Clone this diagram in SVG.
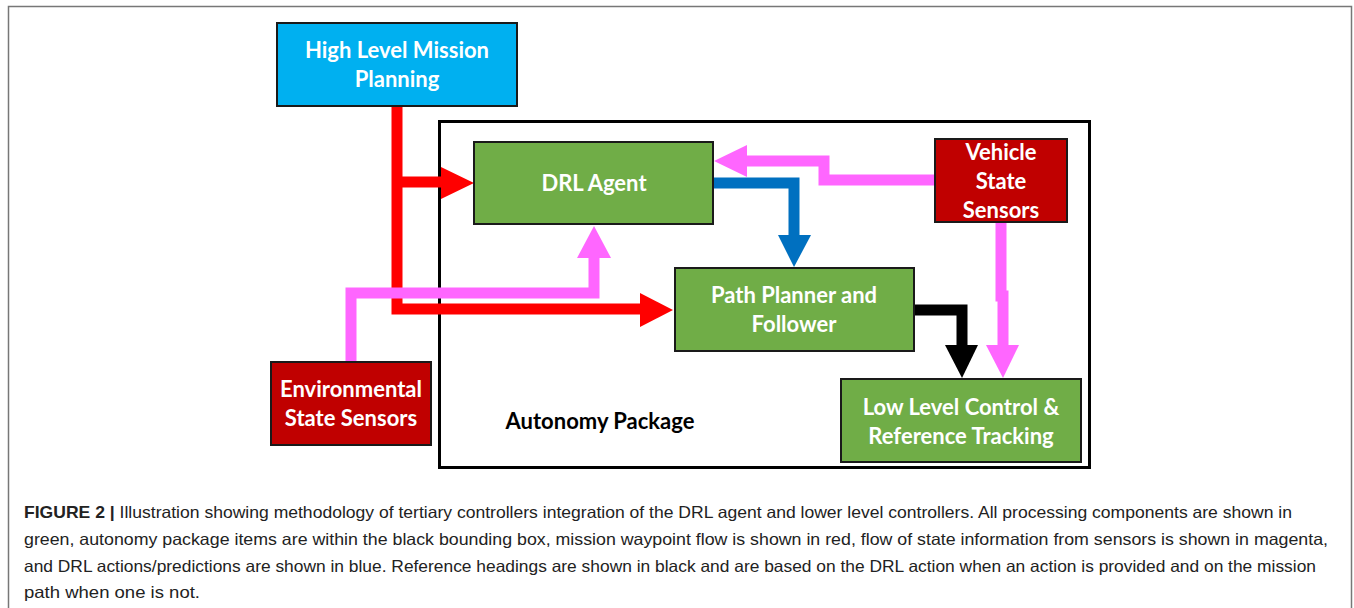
<svg xmlns="http://www.w3.org/2000/svg" width="1354" height="608" viewBox="0 0 1354 608">
<style>
.node{stroke:#1a1a1a;stroke-width:2}
.lbl{font-family:Lato,"Open Sans","Liberation Sans",sans-serif;font-weight:bold;font-size:22px;fill:#fff;text-anchor:middle}
.cap{font-family:"Liberation Sans",Arial,sans-serif;font-size:16.5px;fill:#222}
.red{fill:none;stroke:#ff0000;stroke-width:11}
.mag{fill:none;stroke:#ff66ff;stroke-width:11}
.blu{fill:none;stroke:#0070c0;stroke-width:11}
.blk{fill:none;stroke:#000;stroke-width:11}
</style>
<rect width="1354" height="608" fill="#fff"/>
<path d="M8.5,610 V6.5 H1351.5 V610" fill="none" stroke="#777" stroke-width="1.5"/>
<g id="autonomy">
<rect x="439.5" y="121.5" width="650" height="346" fill="none" stroke="#000" stroke-width="3"/>
<text x="600" y="429" style="font-family:Lato,'Open Sans','Liberation Sans',sans-serif;font-weight:bold;font-size:22px;fill:#000;text-anchor:middle">Autonomy Package</text>
</g>
<g id="connectors">
<path class="red" d="M397,106 V309 H641"/>
<path class="red" d="M397,182 H442"/>
<polygon fill="#ff0000" points="441,167 474,183 441,199"/>
<polygon fill="#ff0000" points="640,293 673,310 640,327"/>
<path class="mag" d="M351,362 V293 H594 V257"/>
<polygon fill="#ff66ff" points="577,258 594,226 611,258"/>
<path class="mag" d="M935,180 H824 V161 H746"/>
<polygon fill="#ff66ff" points="747,145 714,161 747,177"/>
<path class="mag" d="M1001,222 V296 H1003 V346"/>
<polygon fill="#ff66ff" points="986,345 1019,345 1003,378"/>
<path class="blu" d="M713,183 H794 V236"/>
<polygon fill="#0070c0" points="778,235 811,235 794,267"/>
<path class="blk" d="M914,310 H962 V346"/>
<polygon fill="#000" points="945,345 978,345 962,378"/>
</g>
<g id="hlmp">
<rect class="node" x="277" y="23" width="240" height="83" fill="#00b0f0"/>
<text class="lbl" x="397" y="58">High Level Mission</text>
<text class="lbl" x="397" y="87">Planning</text>
</g>
<g id="drl">
<rect class="node" x="474" y="142" width="239" height="82" fill="#70ad47"/>
<text class="lbl" x="594" y="191">DRL Agent</text>
</g>
<g id="vss">
<rect class="node" x="935" y="139" width="132" height="83" fill="#c00000"/>
<text class="lbl" x="1001" y="160">Vehicle</text>
<text class="lbl" x="1001" y="189">State</text>
<text class="lbl" x="1001" y="218">Sensors</text>
</g>
<g id="ppf">
<rect class="node" x="675" y="268" width="239" height="83" fill="#70ad47"/>
<text class="lbl" x="794" y="303">Path Planner and</text>
<text class="lbl" x="794" y="332">Follower</text>
</g>
<g id="ess">
<rect class="node" x="271" y="362" width="160" height="83" fill="#c00000"/>
<text class="lbl" x="351" y="397">Environmental</text>
<text class="lbl" x="351" y="426">State Sensors</text>
</g>
<g id="llc">
<rect class="node" x="841" y="379" width="240" height="83" fill="#70ad47"/>
<text class="lbl" x="961" y="415">Low Level Control &amp;</text>
<text class="lbl" x="961" y="444">Reference Tracking</text>
</g>
<g id="caption">
<text class="cap" x="24" y="518" textLength="1268" lengthAdjust="spacingAndGlyphs"><tspan font-weight="bold">FIGURE 2 |</tspan> Illustration showing methodology of tertiary controllers integration of the DRL agent and lower level controllers. All processing components are shown in</text>
<text class="cap" x="24" y="545" textLength="1304" lengthAdjust="spacingAndGlyphs">green, autonomy package items are within the black bounding box, mission waypoint flow is shown in red, flow of state information from sensors is shown in magenta,</text>
<text class="cap" x="24" y="572" textLength="1292" lengthAdjust="spacingAndGlyphs">and DRL actions/predictions are shown in blue. Reference headings are shown in black and are based on the DRL action when an action is provided and on the mission</text>
<text class="cap" x="24" y="598" textLength="176" lengthAdjust="spacingAndGlyphs">path when one is not.</text>
</g>
</svg>
